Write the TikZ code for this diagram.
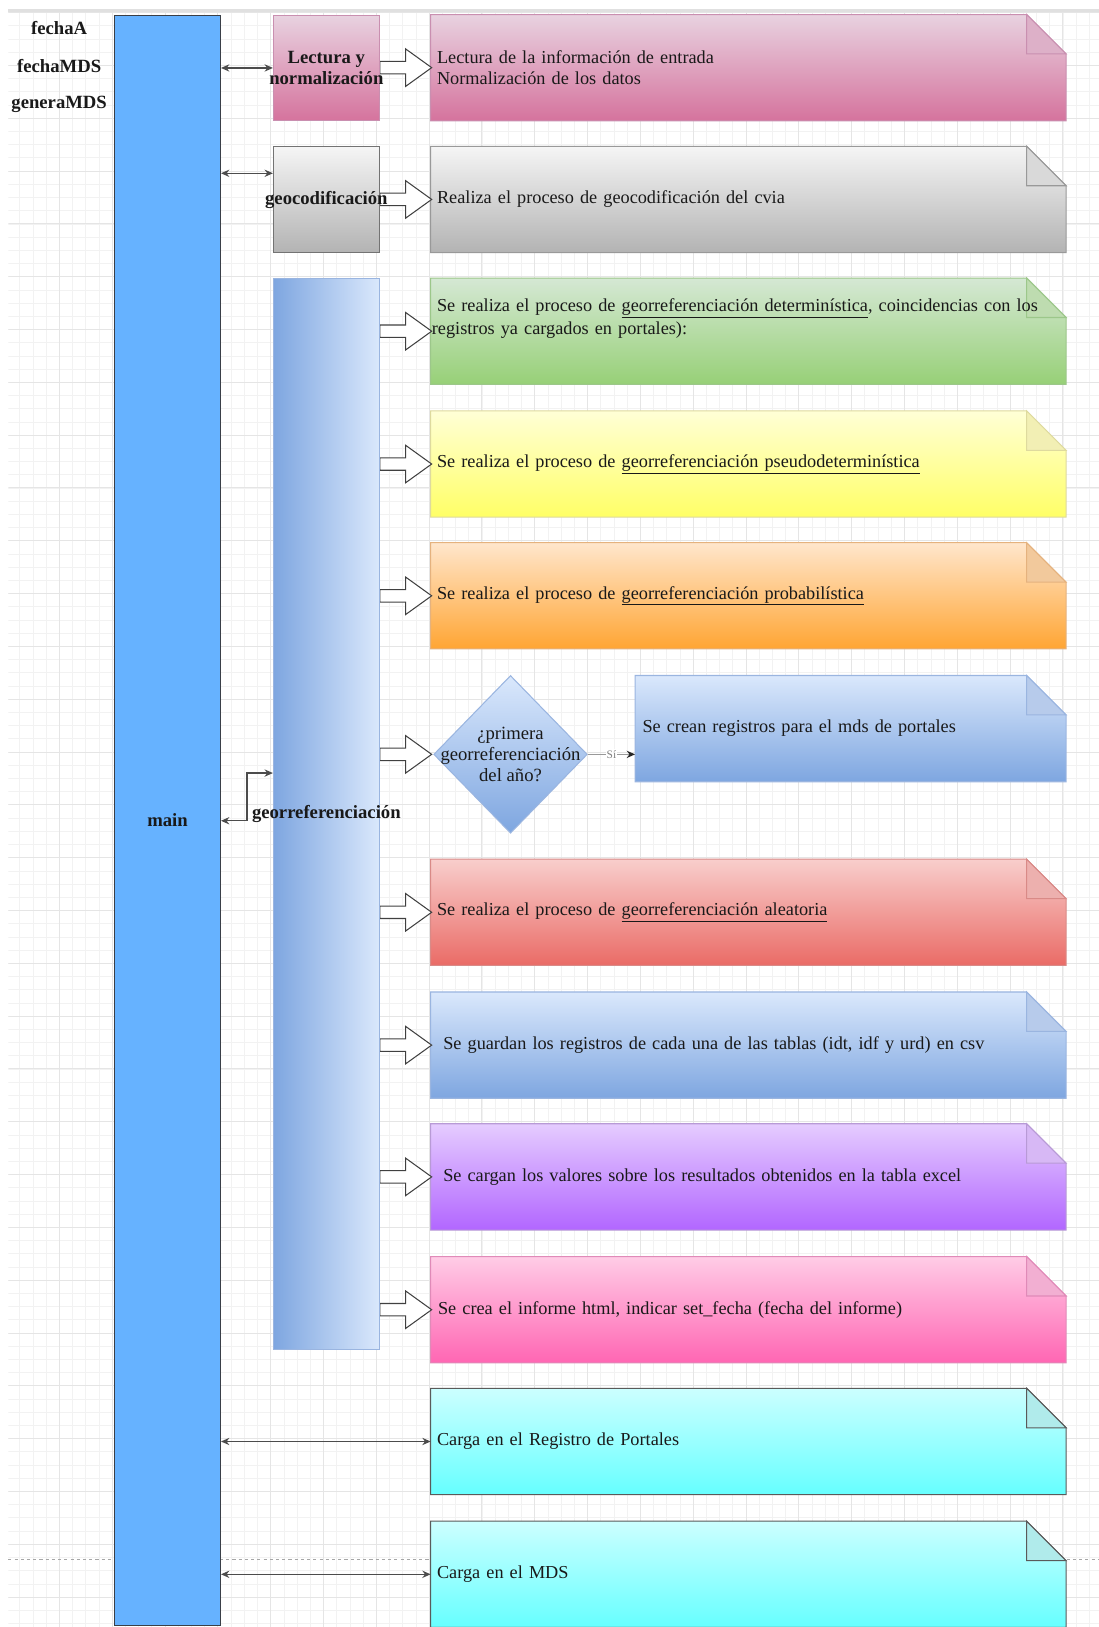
\documentclass[tikz,border=0pt]{standalone}
\usepackage{fontspec}
\setmainfont{Liberation Serif}
\usetikzlibrary{shapes.geometric,arrows.meta,backgrounds,calc}
\definecolor{mainblue}{HTML}{66B2FF}
\definecolor{mainstroke}{HTML}{3A3F47}
\definecolor{lecttop}{HTML}{E8D2E0}
\definecolor{lectbot}{HTML}{D5739D}
\definecolor{lectstroke}{HTML}{C98FB0}
\definecolor{lectfold}{HTML}{DDB0C8}
\definecolor{graytop}{HTML}{F5F5F5}
\definecolor{graybot}{HTML}{B3B3B3}
\definecolor{graystroke}{HTML}{999999}
\definecolor{grayfold}{HTML}{D9D9D9}
\definecolor{greentop}{HTML}{D5E8D4}
\definecolor{greenbot}{HTML}{97D077}
\definecolor{greenstroke}{HTML}{9CC78A}
\definecolor{greenfold}{HTML}{BEDCB0}
\definecolor{yeltop}{HTML}{FFFFD6}
\definecolor{yelbot}{HTML}{FFFF66}
\definecolor{yelstroke}{HTML}{DEDA9E}
\definecolor{yelfold}{HTML}{F2EFB4}
\definecolor{ortop}{HTML}{FFE6CC}
\definecolor{orbot}{HTML}{FFA533}
\definecolor{orstroke}{HTML}{E5B27E}
\definecolor{orfold}{HTML}{F2C99C}
\definecolor{bluetop}{HTML}{DAE8FC}
\definecolor{bluebot}{HTML}{7EA6E0}
\definecolor{bluestroke}{HTML}{9AB5E0}
\definecolor{bluefold}{HTML}{B7CBEB}
\definecolor{redtop}{HTML}{F8CECC}
\definecolor{redbot}{HTML}{EA6B66}
\definecolor{redstroke}{HTML}{D98A87}
\definecolor{redfold}{HTML}{EDB0AE}
\definecolor{purtop}{HTML}{E5CCFF}
\definecolor{purbot}{HTML}{B266FF}
\definecolor{purstroke}{HTML}{B89AD6}
\definecolor{purfold}{HTML}{D7B8F5}
\definecolor{pinktop}{HTML}{FFCCE6}
\definecolor{pinkbot}{HTML}{FF66B3}
\definecolor{pinkstroke}{HTML}{E08AB8}
\definecolor{pinkfold}{HTML}{F2AFD2}
\definecolor{cyantop}{HTML}{CCFFFF}
\definecolor{cyanbot}{HTML}{66FFFF}
\definecolor{cyanstroke}{HTML}{5A5A5A}
\definecolor{cyanfold}{HTML}{B0EBEB}
\newcommand\mynotebg[5]{%
  \shadedraw[top color=#2, bottom color=#3, draw=#4, line width=1pt]
    (#1.north west) -- ($(#1.north east)+(-38pt,0pt)$) -- ($(#1.north east)+(0pt,-38pt)$)
    -- (#1.south east) -- (#1.south west) -- cycle;
  \filldraw[fill=#5, draw=#4, line width=1pt]
    ($(#1.north east)+(-38pt,0pt)$) -- ($(#1.north east)+(-38pt,-38pt)$) -- ($(#1.north east)+(0pt,-38pt)$) -- cycle;
}
\newcommand\myharrow[2]{%
  \draw[blockarrow] (#1.east |- #2.west) ++(0,-6) -- ++(25,0) -- ++(0,-12) -- ++(25,18)
    -- ++(-25,18) -- ++(0,-12) -- ++(-25,0) -- cycle;
}
\begin{document}
\begin{tikzpicture}[x=1pt,y=-1pt, line join=miter,
  txt/.style={font=\fontsize{17.6}{21}\selectfont, text=black!90},
  lbl/.style={font=\fontsize{18}{21}\selectfont\bfseries, inner sep=0pt, text=black!90},
  notebox/.style={txt, anchor=north west, minimum width=612pt, minimum height=102pt, text width=600pt, align=left, inner xsep=6pt, inner ysep=0pt},
  procbox/.style={anchor=north west, minimum width=102pt, minimum height=102pt, inner sep=0pt, line width=1pt},
  dblarrow/.style={{Stealth[length=8pt,width=7pt]}-{Stealth[length=8pt,width=7pt]}, draw=black!70, line width=1.3pt},
  blockarrow/.style={draw=black!75, fill=white, line width=1pt},
  minorgrid/.style={draw=black!5, line width=0.6pt},
  majorgrid/.style={draw=black!10, line width=0.8pt},
]
\useasboundingbox (0,0) rectangle (1059,1568);

% left labels
\node[lbl] (fa) at (57,27) {fechaA};
\node[lbl] (fm) at (57,64) {fechaMDS};
\node[lbl] (fg) at (57,101) {generaMDS};

% main bar
\node[procbox, minimum height=1552pt, fill=mainblue, draw=mainstroke] (main) at (110,14) {};
\node[lbl] (mainlbl) at (main.center) {main};

% process boxes
\node[procbox, top color=lecttop, bottom color=lectbot, draw=lectstroke] (lect) at (263,14) {};
\node[lbl, align=center] (lectlbl) at (lect.center) {Lectura y\\normalización};
\node[procbox, top color=graytop, bottom color=graybot, draw=black!55] (geo) at (263,141) {};
\node[lbl] (geolbl) at (geo.center) {geocodificación};
\node[procbox, minimum height=1032pt, left color=bluebot, right color=bluetop, draw=bluestroke] (geor) at (263,268) {};
\node[lbl] (georlbl) at (geor.center) {georreferenciación};

% notes
\node[notebox] (n1) at (415,14) {Lectura de la información de entrada\\Normalización de los datos};
\node[notebox] (n2) at (415,141) {Realiza el proceso de geocodificación del cvia};
\node[notebox, inner xsep=1pt, text width=610pt, font=\fontsize{17.6}{22}\selectfont] (n3) at (415,268)
  {\hspace*{5pt}Se realiza el proceso de \underline{georreferenciación determinística}, coincidencias con los\\registros ya cargados en portales):\\\strut};
\node[notebox] (n4) at (415,396) {Se realiza el proceso de \underline{georreferenciación pseudodeterminística}};
\node[notebox] (n5) at (415,523) {Se realiza el proceso de \underline{georreferenciación probabilística}};
\node[shape=diamond, minimum width=148pt, minimum height=152pt, inner sep=0pt, top color=bluetop, bottom color=bluebot, draw=bluestroke, line width=1pt] (dia) at (492,727) {};
\node[txt, align=center, font=\fontsize{18}{20}\selectfont] (dialbl) at (dia.center) {¿primera\\georreferenciación\\del año?};
\node[notebox, minimum width=415pt, text width=401pt, inner xsep=7pt] (n6) at (612,651) {Se crean registros para el mds de portales};
\node[notebox] (n7) at (415,828) {Se realiza el proceso de \underline{georreferenciación aleatoria}};
\node[notebox, inner xsep=12pt, text width=588pt] (n8) at (415,956) {Se guardan los registros de cada una de las tablas (idt, idf y urd) en csv};
\node[notebox, inner xsep=12pt, text width=588pt] (n9) at (415,1083) {Se cargan los valores sobre los resultados obtenidos en la tabla excel};
\node[notebox, inner xsep=7pt, text width=598pt] (n10) at (415,1211) {Se crea el informe html, indicar set\_fecha (fecha del informe)};
\node[notebox] (n11) at (415,1338) {Carga en el Registro de Portales};
\node[notebox] (n12) at (415,1466) {Carga en el MDS};

% connectors main <-> boxes
\draw[dblarrow] (main.east |- lect.west) -- (lect.west);
\coordinate (gA) at (263,167);
\draw[dblarrow] (main.east |- gA) -- (gA);
\coordinate (gM) at (212,791);
\coordinate (gR) at (263,745);
\draw[dblarrow] (main.east |- gM) -- ++(25,0) |- (gR);
\draw[dblarrow] (main.east |- n11.west) -- (n11.west);
\draw[dblarrow] (main.east |- n12.west) -- (n12.west);

% diamond -> note
\draw[-{Stealth[length=8pt,width=7pt,color=black!85]}, draw=black!40, line width=1.3pt] (dia.east) -- (n6.west |- dia.east)
  node[midway, fill=white, inner sep=1pt, font=\fontsize{11}{12}\selectfont, text=black!50] (si) {Sí};

\begin{scope}[on background layer]
\fill[white] (0,0) rectangle (1059,1568);
\begin{scope}
\clip (8,10) rectangle (1059,1568);
\foreach \i in {0,...,83} \draw[minorgrid] ({6.3+12.725*\i},10) -- ++(0,1558);
\foreach \j in {0,...,122} \draw[minorgrid] (8,{12.1+12.725*\j}) -- ++(1051,0);
\foreach \i in {0,...,20} \draw[majorgrid] ({6.3+50.9*\i},10) -- ++(0,1558);
\foreach \j in {0,...,30} \draw[majorgrid] (8,{12.1+50.9*\j}) -- ++(1051,0);
\end{scope}
\draw[line width=3pt, black!12] (8,10) -- (1059,10);
\draw[dashed, black!35, line width=1pt] (8,1503) -- (1059,1503);
\mynotebg{n1}{lecttop}{lectbot}{lectstroke}{lectfold}
\mynotebg{n2}{graytop}{graybot}{graystroke}{grayfold}
\mynotebg{n3}{greentop}{greenbot}{greenstroke}{greenfold}
\mynotebg{n4}{yeltop}{yelbot}{yelstroke}{yelfold}
\mynotebg{n5}{ortop}{orbot}{orstroke}{orfold}
\mynotebg{n6}{bluetop}{bluebot}{bluestroke}{bluefold}
\mynotebg{n7}{redtop}{redbot}{redstroke}{redfold}
\mynotebg{n8}{bluetop}{bluebot}{bluestroke}{bluefold}
\mynotebg{n9}{purtop}{purbot}{purstroke}{purfold}
\mynotebg{n10}{pinktop}{pinkbot}{pinkstroke}{pinkfold}
\mynotebg{n11}{cyantop}{cyanbot}{cyanstroke}{cyanfold}
\mynotebg{n12}{cyantop}{cyanbot}{cyanstroke}{cyanfold}
% block arrows (under the labels)
\myharrow{lect}{n1}
\myharrow{geo}{n2}
\myharrow{geor}{n3}
\myharrow{geor}{n4}
\myharrow{geor}{n5}
\myharrow{geor}{dia}
\myharrow{geor}{n7}
\myharrow{geor}{n8}
\myharrow{geor}{n9}
\myharrow{geor}{n10}
\end{scope}
\end{tikzpicture}
\end{document}
